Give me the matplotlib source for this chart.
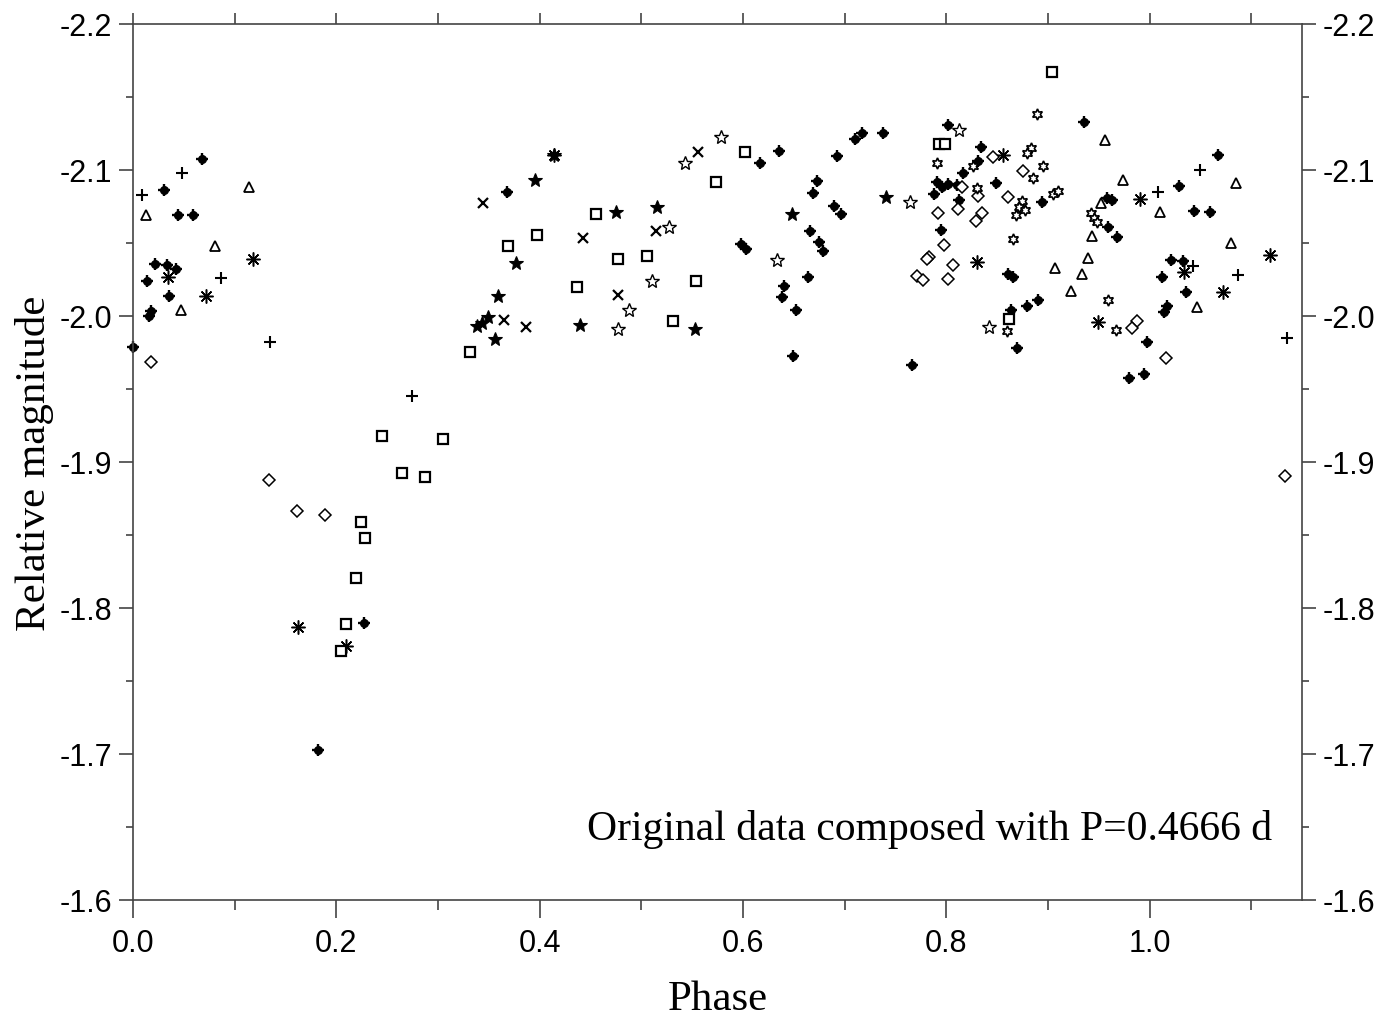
import matplotlib
matplotlib.use("Agg")
import matplotlib.pyplot as plt
from matplotlib.ticker import MultipleLocator, FormatStrFormatter

# ---- data (phase, relative magnitude) grouped by marker symbol ----
filled_ph = [0.0677, 0.0303, 0.0445, 0.0595, 0.0219, 0.0337, 0.0425, 0.0140, 0.0359, 0.0179,
             0.0156, 0.0000, 0.2272, 0.1823, 0.3679, 0.5986, 0.6029, 0.8014, 0.7167, 0.7101,
             0.7374, 0.6353, 0.6173, 0.6921, 0.8339, 0.8309, 0.8161, 0.6724, 0.8489, 0.7906,
             0.7955, 0.8020, 0.8102, 0.7882, 0.6685, 0.8939, 0.6898, 0.6964, 0.8128, 0.6658,
             0.7945, 0.6750, 0.6783, 0.6636, 0.8604, 0.8659, 0.6406, 0.6380, 0.8900, 0.8791,
             0.6518, 0.8634, 0.8699, 0.6488, 0.7660, 0.9358, 1.0677, 1.0293, 0.9579, 0.9628,
             1.0438, 1.0595, 0.9594, 0.9683, 1.0209, 1.0327, 1.0120, 1.0356, 1.0169, 1.0143,
             0.9973, 0.9949, 0.9801]
filled_mag = [-2.1075, -2.0865, -2.0694, -2.0690, -2.0358, -2.0351, -2.0320, -2.0240, -2.0139, -2.0036,
              -2.0002, -1.9790, -1.7897, -1.7029, -2.0851, -2.0493, -2.0459, -2.1310, -2.1253, -2.1212,
              -2.1253, -2.1132, -2.1050, -2.1098, -2.1155, -2.1064, -2.0977, -2.0923, -2.0911, -2.0916,
              -2.0882, -2.0904, -2.0897, -2.0836, -2.0840, -2.0783, -2.0755, -2.0699, -2.0795, -2.0580,
              -2.0591, -2.0509, -2.0447, -2.0269, -2.0288, -2.0265, -2.0208, -2.0132, -2.0110, -2.0066,
              -2.0043, -2.0043, -1.9781, -1.9728, -1.9666, -2.1327, -2.1105, -2.0888, -2.0808, -2.0797,
              -2.0721, -2.0714, -2.0612, -2.0543, -2.0384, -2.0375, -2.0265, -2.0164, -2.0071, -2.0029,
              -1.9820, -1.9603, -1.9573]

plus_ph = [0.0480, 0.0091, 0.0868, 0.1343, 0.2748, 1.0497, 1.0081, 1.0425, 1.0868, 1.1350]
plus_mag = [-2.0977, -2.0829, -2.0260, -1.9824, -1.9454, -2.1000, -2.0851, -2.0345, -2.0283, -1.9847]

tri_ph = [0.1140, 0.0123, 0.0805, 0.0468, 0.9070, 0.9562, 1.0847, 0.9742, 0.9523, 1.0103,
          0.9437, 1.0802, 0.9398, 0.9333, 0.9227, 1.0465]
tri_mag = [-2.0882, -2.0690, -2.0477, -2.0043, -2.0327, -2.1205, -2.0909, -2.0934, -2.0774, -2.0710,
           -2.0550, -2.0498, -2.0397, -2.0288, -2.0169, -2.0064]

ast_ph = [0.1183, 0.0349, 0.0720, 0.1622, 0.2092, 0.4139, 0.8561, 0.8299, 0.9906, 1.1186,
          1.0339, 1.0720, 0.9496]
ast_mag = [-2.0390, -2.0269, -2.0139, -1.7868, -1.7742, -2.1103, -2.1105, -2.0368, -2.0801, -2.0418,
           -2.0299, -2.0164, -1.9957]

x_ph = [0.3443, 0.5143, 0.4427, 0.4772, 0.3654, 0.3863, 0.5559]
x_mag = [-2.0772, -2.0582, -2.0536, -2.0146, -1.9971, -1.9923, -2.1125]

sq_ph = [0.2453, 0.3049, 0.2646, 0.2876, 0.2239, 0.2285, 0.2197, 0.2092, 0.2049, 0.4559,
         0.3974, 0.3689, 0.4772, 0.5054, 0.4372, 0.5539, 0.5313, 0.3319, 0.6019, 0.5740,
         0.9037, 0.7931, 0.7987, 0.8620]
sq_mag = [-1.9176, -1.9158, -1.8925, -1.8899, -1.8588, -1.8477, -1.8203, -1.7890, -1.7703, -2.0699,
          -2.0555, -2.0482, -2.0390, -2.0411, -2.0197, -2.0240, -1.9964, -1.9751, -2.1121, -2.0920,
          -2.1669, -2.1176, -2.1176, -1.9979]

dia_ph = [0.0179, 0.1337, 0.1616, 0.1892, 0.8463, 0.8758, 0.8157, 0.8315, 0.8610, 0.7915,
          0.8112, 0.8348, 0.8292, 0.7977, 0.7833, 0.7807, 0.8069, 0.7709, 0.7774, 0.8014,
          0.9874, 0.9825, 1.0163, 1.1334]
dia_mag = [-1.9683, -1.8879, -1.8664, -1.8639, -2.1087, -2.0995, -2.0882, -2.0820, -2.0813, -2.0705,
           -2.0733, -2.0703, -2.0653, -2.0488, -2.0402, -2.0390, -2.0351, -2.0276, -2.0247, -2.0253,
           -1.9968, -1.9916, -1.9710, -1.8905]

fstar_ph = [0.3952, 0.4749, 0.5156, 0.3772, 0.3591, 0.3384, 0.3437, 0.3492, 0.4395, 0.5533,
            0.3558, 0.4139, 0.7404, 0.6484]
fstar_mag = [-2.0932, -2.0714, -2.0745, -2.0363, -2.0135, -1.9934, -1.9952, -1.9995, -1.9938, -1.9911,
             -1.9842, -2.1103, -2.0817, -2.0699]

ostar_ph = [0.5789, 0.5435, 0.5268, 0.5110, 0.4880, 0.4772, 0.7643, 0.6340, 0.8128, 0.8423]
ostar_mag = [-2.1224, -2.1048, -2.0608, -2.0238, -2.0041, -1.9911, -2.0779, -2.0384, -2.1274, -1.9923]

hex_ph = [0.8890, 0.8834, 0.8797, 0.8266, 0.7906, 0.8856, 0.8949, 0.8305, 0.9053, 0.9102,
          0.8742, 0.8719, 0.8775, 0.8686, 0.8660, 0.9421, 0.9454, 0.9480, 0.9589, 0.9667,
          0.8594]
hex_mag = [-2.1384, -2.1149, -2.1114, -2.1025, -2.1048, -2.0943, -2.1025, -2.0875, -2.0836, -2.0858,
           -2.0790, -2.0745, -2.0728, -2.0692, -2.0527, -2.0703, -2.0671, -2.0642, -2.0110, -1.9904,
           -1.9899]

x_ticks = [0.0, 0.2, 0.4, 0.6, 0.8, 1.0]
y_ticks = [-2.2, -2.1, -2.0, -1.9, -1.8, -1.7, -1.6]
annotation = "Original data composed with P=0.4666 d"

# ---- figure ----
fig = plt.figure(figsize=(13.82, 10.20), dpi=100)
ax = fig.add_axes([133 / 1382, 1 - 901 / 1020, (1302 - 133) / 1382, (901 - 25) / 1020])

k = dict(linestyle="none", clip_on=False)
ax.plot(filled_ph, filled_mag, marker="o", ms=5.5, mfc="black", mec="black", **k)
ax.plot(filled_ph, filled_mag, marker="+", ms=9, mew=1.7, color="black", **k)
ax.plot(plus_ph, plus_mag, marker="+", ms=9, mew=1.5, color="black", **k)
ax.plot(tri_ph, tri_mag, marker="^", ms=7, mfc="white", mec="black", mew=1.3, **k)
ax.plot(ast_ph, ast_mag, marker=(8, 2, 0), ms=10, mec="black", mew=1.1, **k)
ax.plot(x_ph, x_mag, marker="x", ms=7, mec="black", mew=1.6, **k)
ax.plot(sq_ph, sq_mag, marker="s", ms=6.5, mfc="white", mec="black", mew=1.6, **k)
ax.plot(dia_ph, dia_mag, marker="D", ms=6, mfc="white", mec="black", mew=1.1, **k)
ax.plot(fstar_ph, fstar_mag, marker="*", ms=10, mfc="black", mec="black", mew=0.8, **k)
ax.plot(ostar_ph, ostar_mag, marker="*", ms=10.5, mfc="white", mec="black", mew=1.0, **k)
ax.plot(hex_ph, hex_mag, marker=(6, 1, 0), ms=8, mfc="white", mec="black", mew=1.2, **k)

ax.set_xlim(0.0, 1.15)
ax.set_ylim(-1.6, -2.2)

spine_col = "#444444"
for s in ax.spines.values():
    s.set_color(spine_col)
    s.set_linewidth(1.2)

tick_font = dict(family=["Liberation Sans", "DejaVu Sans"], size=22)
ax.set_xticks(x_ticks)
ax.xaxis.set_minor_locator(MultipleLocator(0.1))
ax.xaxis.set_major_formatter(FormatStrFormatter("%.1f"))
ax.set_yticks(y_ticks)
ax.yaxis.set_minor_locator(MultipleLocator(0.05))
ax.yaxis.set_major_formatter(FormatStrFormatter("%.1f"))

ax.tick_params(axis="x", which="major", direction="out", length=13, width=1.2, color=spine_col,
               pad=7, top=False, bottom=True)
ax.tick_params(axis="x", which="minor", direction="out", length=7, width=1.2, color=spine_col,
               top=False, bottom=True)
ax.tick_params(axis="y", which="major", direction="out", length=10, width=1.2, color=spine_col,
               pad=5, left=True, right=True, labelleft=True, labelright=True)
ax.tick_params(axis="y", which="minor", direction="out", length=5, width=1.2, color=spine_col,
               left=True, right=True)
for lab in ax.get_xticklabels() + ax.get_yticklabels():
    lab.set_fontfamily(tick_font["family"])
    lab.set_fontsize(tick_font["size"])

# top axis ticks every 0.1 (outward, no labels)
top = ax.secondary_xaxis("top")
top.set_xticks([i / 10 for i in range(12)])
top.tick_params(direction="out", length=8, width=1.2, color=spine_col, labeltop=False)
top.spines["top"].set_visible(False)

serif = ["Liberation Serif", "DejaVu Serif"]
ax.set_xlabel("Phase", fontfamily=serif, fontsize=31)
ax.xaxis.set_label_coords(0.5, (901 - 1000) / 876)
ax.xaxis.label.set_va("center")
ax.set_ylabel("Relative magnitude", fontfamily=serif, fontsize=31)
ax.yaxis.set_label_coords((35 - 133) / 1169, 0.5)
ax.yaxis.label.set_va("center")

ax.text((1272 - 133) / 1169, (901 - 830) / 876, annotation, transform=ax.transAxes,
        ha="right", va="center", fontfamily=serif, fontsize=30)

fig.savefig("out.png", dpi=100)
